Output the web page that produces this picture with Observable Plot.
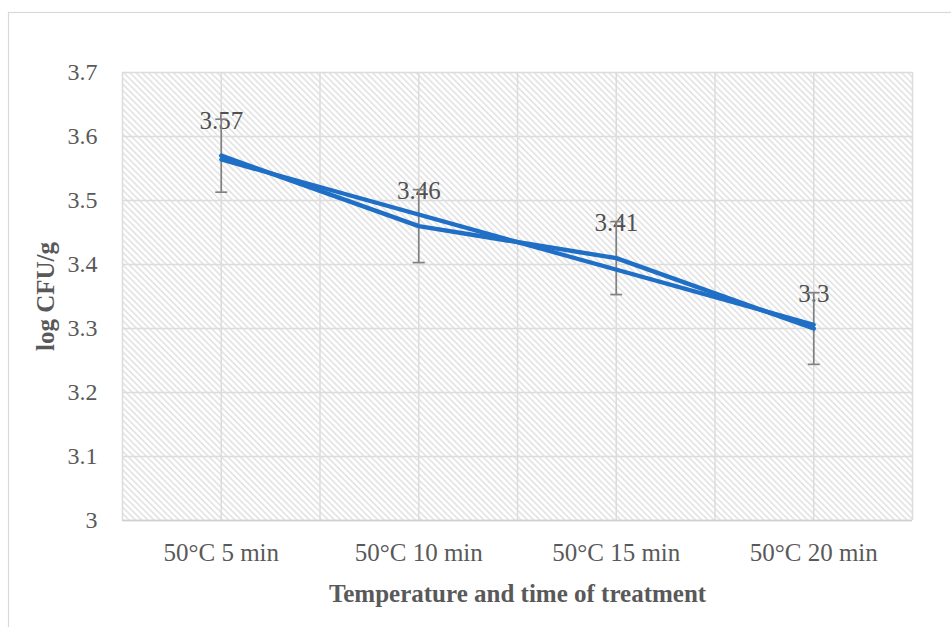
<!DOCTYPE html>
<html>
<head>
<meta charset="utf-8">
<script src="https://cdn.jsdelivr.net/npm/d3@7"></script>
<script src="https://cdn.jsdelivr.net/npm/@observablehq/plot@0.6"></script>
<style>
  html, body { margin: 0; padding: 0; background: #fff; }
  #chart { width: 951px; height: 627px; overflow: hidden; }
</style>
</head>
<body>
<div id="chart"></div>
<script>
const categories = ["50°C 5 min", "50°C 10 min", "50°C 15 min", "50°C 20 min"];
const values = [3.57, 3.46, 3.41, 3.3];
const errors = [0.057, 0.057, 0.057, 0.056];
const valueLabels = ["3.57", "3.46", "3.41", "3.3"];
const yTicks = [3, 3.1, 3.2, 3.3, 3.4, 3.5, 3.6, 3.7];
const xTitle = "Temperature and time of treatment";
const yTitle = "log CFU/g";

const data = categories.map((c, i) => ({i, c, v: values[i], e: errors[i], label: valueLabels[i]}));

// linear trendline (least squares over category index)
const n = values.length;
const mx = d3.mean(data, d => d.i), my = d3.mean(values);
const slope = d3.sum(data, d => (d.i - mx) * (d.v - my)) / d3.sum(data, d => (d.i - mx) ** 2);
const trend = [0, n - 1].map(i => ({i, v: my + slope * (i - mx)}));

const gridXValues = d3.range(-0.5, n, 0.5);
const blue = "#1f6fc6";
const gray = "#595959";
const font = "'Liberation Serif', 'Times New Roman', serif";

const capSymbol = {
  draw(ctx, size) {
    const r = Math.sqrt(size / Math.PI);
    ctx.moveTo(-r, 0);
    ctx.lineTo(r, 0);
  }
};

const chart = Plot.plot({
  width: 951,
  height: 627,
  marginLeft: 122,
  marginRight: 39,
  marginTop: 72,
  marginBottom: 107,
  style: {fontFamily: font, background: "transparent", overflow: "visible"},
  x: {type: "linear", domain: [-0.5, n - 0.5], axis: null},
  y: {domain: [3, 3.7], axis: null},
  marks: [
    Plot.frame({fill: "url(#hatch)", stroke: "none"}),
    Plot.ruleY(yTicks, {stroke: "#dcdcdc", strokeWidth: 1.5}),
    Plot.ruleX(gridXValues, {stroke: "#dcdcdc", strokeWidth: 1.5}),
    Plot.ruleY([3], {stroke: "#d0d0d0", strokeWidth: 1.6}),
    Plot.axisY(yTicks, {
      tickSize: 0, tickPadding: 25, fontSize: 24, fill: gray,
      tickFormat: d => d3.format("")(d), label: null
    }),
    Plot.axisX(d3.range(n), {
      tickSize: 0, tickPadding: 23, fontSize: 25, fill: gray,
      tickFormat: i => categories[i], label: null
    }),
    Plot.text([yTitle], {
      frameAnchor: "left", textAnchor: "middle", dx: -77, rotate: -90, text: d => d,
      fontSize: 25, fontWeight: "bold", fill: gray
    }),
    Plot.text([xTitle], {
      frameAnchor: "bottom", textAnchor: "middle", dy: 81, text: d => d,
      fontSize: 25, fontWeight: "bold", fill: gray
    }),
    Plot.text(data, {
      x: "i", y: "v", text: "label", dy: -35,
      fontSize: 25, fill: "#505050"
    }),
    Plot.ruleX(data, {x: "i", y1: d => d.v - d.e, y2: d => d.v + d.e, stroke: "#808080", strokeWidth: 1.7}),
    Plot.dot(data, {x: "i", y: d => d.v - d.e, symbol: capSymbol, r: 6, stroke: "#808080", strokeWidth: 1.7, fill: "none"}),
    Plot.dot(data, {x: "i", y: d => d.v + d.e, symbol: capSymbol, r: 6, stroke: "#808080", strokeWidth: 1.7, fill: "none"}),
    Plot.line(trend, {x: "i", y: "v", stroke: blue, strokeWidth: 4.2}),
    Plot.line(data, {x: "i", y: "v", stroke: blue, strokeWidth: 4.5, strokeLinejoin: "round", strokeLinecap: "round"})
  ]
});

// hatch pattern definition + outer chart border
const svg = d3.select(chart);
const defs = svg.insert("defs", ":first-child");
const pat = defs.append("pattern")
  .attr("id", "hatch")
  .attr("patternUnits", "userSpaceOnUse")
  .attr("width", 4.4)
  .attr("height", 4.4)
  .attr("patternTransform", "rotate(-45)");
pat.append("rect").attr("width", 4.4).attr("height", 4.4).attr("fill", "#ffffff");
pat.append("rect").attr("x", 0).attr("width", 1.6).attr("height", 4.4).attr("fill", "#e2e2e2");

svg.append("rect")
  .attr("x", 8.5).attr("y", 12.5)
  .attr("width", 1200).attr("height", 1200)
  .attr("fill", "none").attr("stroke", "#d9d9d9").attr("stroke-width", 1.2);

document.getElementById("chart").appendChild(chart);
</script>
</body>
</html>
